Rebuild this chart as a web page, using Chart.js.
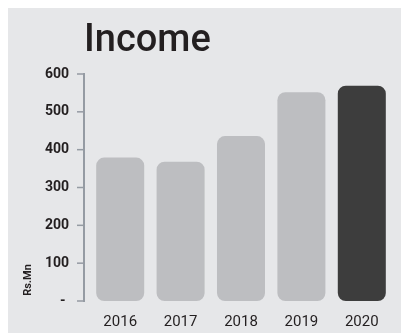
<!DOCTYPE html>
<html>
<head>
<meta charset="utf-8">
<script src="https://cdn.jsdelivr.net/npm/chart.js@4.4.0/dist/chart.umd.js"></script>
<style>
  body { margin: 0; background: #ffffff; }
  #panel { position: absolute; left: 8px; top: 8px; width: 393px; height: 325px; background: #e6e7e9; }
</style>
</head>
<body>
<div id="panel"><canvas id="chart" width="393" height="325"></canvas></div>
<script>
// Chart data
const years = ['2016', '2017', '2018', '2019', '2020'];
const income = [379, 368, 436, 552, 569];
const barColors = ['#bdbec1', '#bdbec1', '#bdbec1', '#bdbec1', '#3d3d3d'];
const yTicks = [0, 100, 200, 300, 400, 500, 600];
const chartTitle = 'Income';
const yUnit = 'Rs.Mn';

// Draws the title, the y unit and the detached y axis line
const decorations = {
    id: 'decorations',
    afterDraw(chart) {
        const ctx = chart.ctx;
        const y = chart.scales.y;
        const axisX = Math.round(chart.chartArea.left) - 7;
        const top = y.getPixelForValue(yTicks[yTicks.length - 1]);
        const bottom = y.getPixelForValue(yTicks[0]);
        ctx.save();

        // Axis line with tick marks
        ctx.fillStyle = '#959ba3';
        ctx.fillRect(axisX, top - 1, 2, bottom - top + 2);
        yTicks.forEach(v => {
            const py = y.getPixelForValue(v);
            ctx.fillRect(axisX - 6, py - 0.75, 6, 1.5);
        });

        // Title
        ctx.fillStyle = '#231f20';
        ctx.font = '500 38px Roboto';
        ctx.textAlign = 'left';
        ctx.textBaseline = 'alphabetic';
        ctx.fillText(chartTitle, 76, 43);

        // Unit label
        ctx.font = 'bold 11px Roboto';
        ctx.translate(20, 272);
        ctx.rotate(-Math.PI / 2);
        ctx.textAlign = 'center';
        ctx.textBaseline = 'middle';
        ctx.fillText(yUnit, 0, 0);
        ctx.restore();
    }
};

new Chart(document.getElementById('chart'), {
    type: 'bar',
    data: {
        labels: years,
        datasets: [{
            data: income,
            backgroundColor: barColors,
            borderRadius: 8,
            borderSkipped: false,
            categoryPercentage: 1,
            barPercentage: 0.795
        }]
    },
    options: {
        responsive: false,
        animation: false,
        devicePixelRatio: 1,
        layout: { padding: { top: 66, right: 9, bottom: 0, left: 0 } },
        plugins: {
            legend: { display: false },
            tooltip: { enabled: false }
        },
        scales: {
            x: {
                afterFit: scale => { scale.height = 32; },
                grid: { display: false, drawTicks: false },
                border: { display: false },
                ticks: {
                    color: '#231f20',
                    padding: 12,
                    font: { family: 'Roboto', size: 15 }
                }
            },
            y: {
                min: 0,
                max: 600,
                afterFit: scale => { scale.width = 82; },
                grid: { display: false, drawTicks: false },
                border: { display: false },
                ticks: {
                    stepSize: 100,
                    color: '#231f20',
                    padding: 21,
                    font: { family: 'Roboto', size: 14, weight: 'bold' },
                    callback: v => v === 0 ? '- ' : v
                }
            }
        }
    },
    plugins: [decorations]
});
</script>
</body>
</html>
